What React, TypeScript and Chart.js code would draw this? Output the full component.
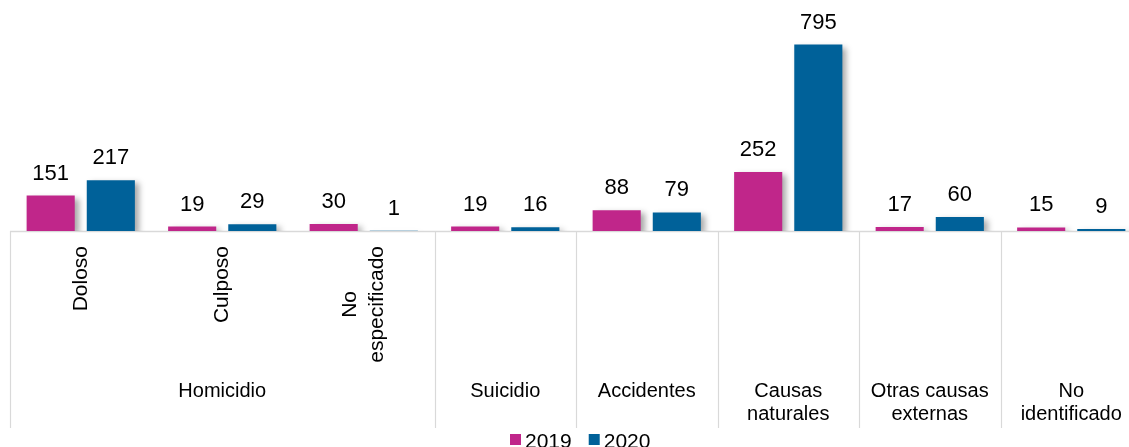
import React, { useEffect, useRef } from "react";
import { Chart, registerables } from "chart.js";

Chart.register(...registerables);

const categories = ["Doloso", "Culposo", "No especificado", "Suicidio", "Accidentes", "Causas naturales", "Otras causas externas", "No identificado"];
const subLabels: string[][] = [["Doloso"], ["Culposo"], ["No", "especificado"], [], [], [], [], []];
const groupLabels: string[][] = [["Homicidio"], ["Suicidio"], ["Accidentes"], ["Causas", "naturales"], ["Otras causas", "externas"], ["No", "identificado"]];
const groupSpans = [3, 1, 1, 1, 1, 1];
const series2019 = [151, 19, 30, 19, 88, 252, 17, 15];
const series2020 = [217, 29, 1, 16, 79, 795, 60, 9];
const seriesNames = ["2019", "2020"];
const colors = ["#C0268A", "#006199"];

const FONT = '"Liberation Sans", Arial, sans-serif';
const GRID = "#d9d9d9";

const decorPlugin = {
  id: "decor",
  beforeDatasetsDraw(chart: any) {
    const ctx = chart.ctx;
    const { left, right, bottom } = chart.chartArea;
    ctx.save();
    ctx.strokeStyle = GRID;
    ctx.lineWidth = 1.5;
    ctx.beginPath();
    ctx.moveTo(left, bottom + 0.5);
    ctx.lineTo(right, bottom + 0.5);
    ctx.stroke();
    ctx.restore();
    ctx.save();
    ctx.shadowColor = "rgba(0,0,0,0.35)";
    ctx.shadowBlur = 6;
    ctx.shadowOffsetX = 4;
    ctx.shadowOffsetY = 3;
  },
  afterDatasetsDraw(chart: any) {
    const ctx = chart.ctx;
    ctx.restore();
    const { left, right, bottom } = chart.chartArea;
    const xs = chart.scales.x;
    const step = (right - left) / categories.length;
    const sepBottom = 428;

    // value labels
    ctx.save();
    ctx.fillStyle = "#000";
    ctx.font = `22px ${FONT}`;
    ctx.textAlign = "center";
    ctx.textBaseline = "alphabetic";
    chart.data.datasets.forEach((ds: any, di: number) => {
      const meta = chart.getDatasetMeta(di);
      meta.data.forEach((bar: any, i: number) => {
        ctx.fillText(String(ds.data[i]), bar.x, bar.y - 16);
      });
    });
    ctx.restore();

    // separators
    ctx.save();
    ctx.strokeStyle = GRID;
    ctx.lineWidth = 1.2;
    let idx = 0;
    const bounds = [0];
    groupSpans.forEach((s) => {
      idx += s;
      bounds.push(idx);
    });
    bounds.forEach((b) => {
      const x = Math.round(left + b * step) + 0.5;
      if (x > chart.width) return;
      ctx.beginPath();
      ctx.moveTo(x, bottom);
      ctx.lineTo(x, sepBottom);
      ctx.stroke();
    });
    ctx.restore();

    // rotated sub labels
    ctx.save();
    ctx.fillStyle = "#000";
    ctx.font = `21px ${FONT}`;
    ctx.textAlign = "center";
    ctx.textBaseline = "middle";
    const lh = 27;
    subLabels.forEach((lines, i) => {
      if (!lines.length) return;
      const cx = xs.getPixelForValue(i);
      const maxW = Math.max(...lines.map((l) => ctx.measureText(l).width));
      const cy = 246 + maxW / 2;
      lines.forEach((l, li) => {
        const off = (li - (lines.length - 1) / 2) * lh;
        ctx.save();
        ctx.translate(cx + off, cy);
        ctx.rotate(-Math.PI / 2);
        ctx.fillText(l, 0, 0);
        ctx.restore();
      });
    });
    ctx.restore();

    // group labels
    ctx.save();
    ctx.fillStyle = "#000";
    ctx.font = `20px ${FONT}`;
    ctx.textAlign = "center";
    ctx.textBaseline = "middle";
    let start = 0;
    groupLabels.forEach((lines, g) => {
      const cx = left + (start + groupSpans[g] / 2) * step;
      lines.forEach((l, li) => {
        ctx.fillText(l, cx, 391 + li * 23);
      });
      start += groupSpans[g];
    });
    ctx.restore();

    // legend
    ctx.save();
    ctx.font = `21px ${FONT}`;
    ctx.textBaseline = "alphabetic";
    ctx.textAlign = "left";
    const box = 11;
    const gapBox = 4;
    const gapItem = 17;
    let lx = 510;
    seriesNames.forEach((n, i) => {
      ctx.fillStyle = colors[i];
      ctx.fillRect(lx, 434, box, box);
      ctx.fillStyle = "#000";
      ctx.fillText(n, lx + box + gapBox, 448);
      lx += box + gapBox + ctx.measureText(n).width + gapItem;
    });
    ctx.restore();
  },
};

export default function App() {
  const ref = useRef<HTMLCanvasElement>(null);
  useEffect(() => {
    if (!ref.current) return;
    const chart = new Chart(ref.current, {
      type: "bar",
      data: {
        labels: categories,
        datasets: [
          { label: seriesNames[0], data: series2019, backgroundColor: colors[0], borderWidth: 0 },
          { label: seriesNames[1], data: series2020, backgroundColor: colors[1], borderWidth: 0 },
        ],
      },
      options: {
        responsive: false,
        animation: false,
        devicePixelRatio: 1,
        layout: { padding: { left: 10, right: 4, top: 20, bottom: 216 } },
        plugins: { legend: { display: false }, tooltip: { enabled: false } },
        datasets: { bar: { categoryPercentage: 0.85, barPercentage: 0.8 } },
        scales: {
          x: { display: false, offset: true, grid: { display: false } },
          y: { display: false, min: 0, max: 900, grid: { display: false } },
        },
      },
      plugins: [decorPlugin],
    });
    return () => chart.destroy();
  }, []);
  return (
    <div style={{ position: "absolute", left: 0, top: 0, width: 1129, height: 447, overflow: "hidden", background: "#fff" }}>
      <canvas ref={ref} width={1146} height={447} style={{ width: 1146, height: 447, display: "block" }} />
    </div>
  );
}
